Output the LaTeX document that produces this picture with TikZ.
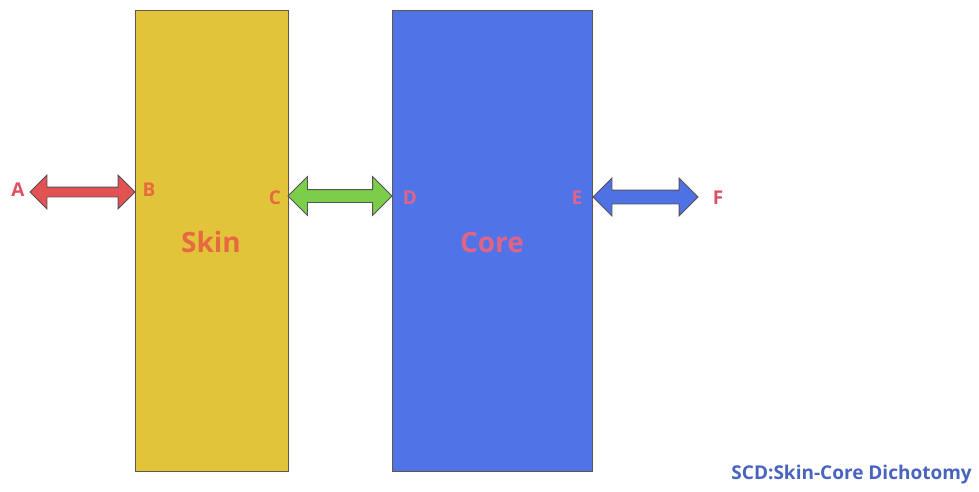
\documentclass[tikz,border=0pt]{standalone}
\usepackage{fontspec}
\setmainfont{Open Sans}
\usetikzlibrary{shapes.arrows}
\definecolor{skinfill}{RGB}{226,196,58}
\definecolor{corefill}{RGB}{80,116,232}
\definecolor{boxline}{RGB}{95,88,70}
\definecolor{labout}{RGB}{222,80,95}
\definecolor{labskin}{RGB}{230,105,65}
\definecolor{labcore}{RGB}{224,100,135}
\definecolor{redarr}{RGB}{226,82,82}
\definecolor{greenarr}{RGB}{124,206,72}
\definecolor{bluearr}{RGB}{78,114,228}
\definecolor{arrline}{RGB}{85,80,90}
\definecolor{scdblue}{RGB}{72,100,190}
\tikzset{
  panel/.style={draw=boxline, line width=1pt, inner sep=0pt},
  fatarrow/.style={double arrow, draw=arrline, line width=0.8pt, inner xsep=0pt, double arrow tip angle=90},
  ptlabel/.style={font=\bfseries\fontsize{19}{19}\selectfont, inner sep=0pt},
  biglabel/.style={font=\bfseries\fontsize{28}{28}\selectfont, inner sep=0pt},
}
\begin{document}
\begin{tikzpicture}[x=1pt,y=-1pt]
\useasboundingbox (0,0) rectangle (979,492);
% panels
\node[panel, fill=skinfill, minimum width=153pt, minimum height=461pt, anchor=north west] (skin) at (135,10) {};
\node[panel, fill=corefill, minimum width=200pt, minimum height=461pt, anchor=north west] (core) at (392,10) {};
% arrows
\node[fatarrow, fill=redarr, minimum height=105pt, inner ysep=4.5pt, double arrow head extend=12pt] (ab) at (82.5,192) {};
\node[fatarrow, fill=greenarr, minimum height=104pt, inner ysep=6pt, double arrow head extend=13pt] (cd) at (340,196) {};
\node[fatarrow, fill=bluearr, minimum height=105pt, inner ysep=6.5pt, double arrow head extend=12pt] (ef) at (645.5,197) {};
% point labels
\node[ptlabel, text=labout] (A) at (18,190) {A};
\node[ptlabel, text=labskin] (B) at (149,190) {B};
\node[ptlabel, text=labskin] (C) at (275,198) {C};
\node[ptlabel, text=labcore] (D) at (410,198) {D};
\node[ptlabel, text=labcore] (E) at (577,198) {E};
\node[ptlabel, text=labout] (F) at (718,198) {F};
% panel labels
\node[biglabel, text=labskin] (skint) at (211,242) {Skin};
\node[biglabel, text=labcore] (coret) at (492,242) {Core};
% caption
\node[font=\bfseries\fontsize{19}{19}\selectfont, text=scdblue, inner sep=0pt, anchor=east] (scd) at (972,475) {SCD:Skin-Core Dichotomy};
\end{tikzpicture}
\end{document}
